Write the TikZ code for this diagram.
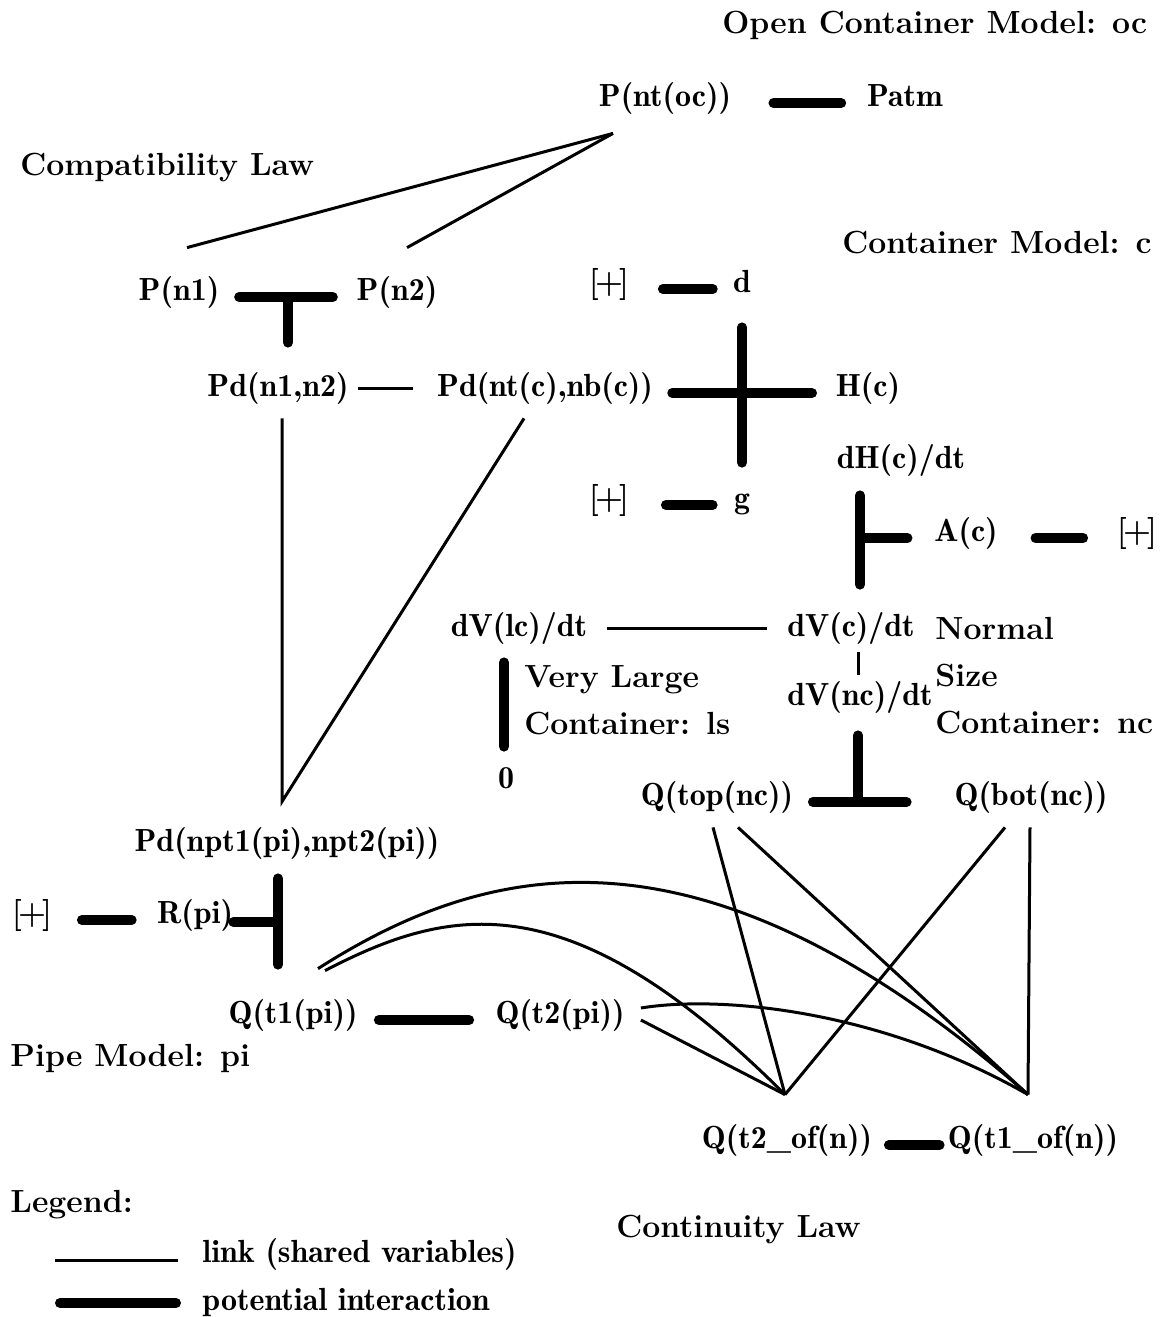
\documentclass[tikz,border=0pt]{standalone}
\usepackage{tikz}
\usetikzlibrary{calc}
\tikzstyle{var}=[inner sep=0, text height=12pt, text depth=4pt, font=\fontsize{16}{19}\fontseries{b}\selectfont]
\tikzstyle{pbox}=[var, font=\fontsize{16}{19}\bfseries]
\tikzstyle{heading}=[inner sep=0, anchor=west, align=left, font=\fontsize{16}{23.5}\fontseries{bx}\selectfont]
\tikzstyle{link}=[line width=1.5pt]
\tikzstyle{inter}=[line width=5pt, line cap=round]
\tikzstyle{hbar}=[inter, transform canvas={yshift=-2.5pt}]
\newcommand{\plusbox}{[\kern-2pt+\kern-2pt]}

\begin{document}
\begin{tikzpicture}[x=0.5pt, y=-0.5pt]
\useasboundingbox (0,0) rectangle (1162,1317);
\draw (722,25) node[heading](ocm){Open Container Model: oc};
\draw (665,98) node[var](pntoc){P(nt(oc))};
\draw (905,98) node[var](patm){Patm};
\draw[hbar, shorten <=21pt, shorten >=12.8pt] (pntoc) -- (patm);
\draw (20,168) node[heading](compat){Compatibility Law};
\draw (842,243) node[heading](cm){Container Model: c};
\draw (179,292) node[var](pn1){P(n1)};
\draw (397,292) node[var](pn2){P(n2)};
\draw[link] ($(pntoc.south)+(-52,19)$) -- ($(pn1.north)+(8,-28)$);
\draw[link] ($(pntoc.south)+(-52,19)$) -- ($(pn2.north)+(10,-28)$);
\draw (609,284) node[pbox](plus1){\plusbox};
\draw (742,284) node[var](d){d};
\draw[hbar, shorten <=16.75pt, shorten >=10pt] (plus1) -- (d);
\draw (278,388) node[var](pd12){Pd(n1,n2)};
\draw (545,388) node[var](pdc){Pd(nt(c),nb(c))};
\draw (868,388) node[var](hc){H(c)};
\draw[hbar, shorten <=9.75pt, shorten >=11.75pt] (pn1) -- (pn2);
\coordinate (j12) at ($(pn1.east)!.5!(pn2.west)$);
\draw[inter, shorten <=2.5pt, shorten >=14.5pt] (j12) -- (j12 |- pd12.north);
\draw[link, shorten <=4.75pt, shorten >=12pt] (pd12) -- (pdc);
\draw[hbar, shorten <=9.5pt, shorten >=11.75pt] (pdc) -- (hc);
\draw (609,500) node[pbox](plus2){\plusbox};
\draw (742,500) node[var](g){g};
\draw[hbar, shorten <=18.25pt, shorten >=10.5pt] (plus2) -- (g);
\draw[inter, shorten <=13.5pt, shorten >=10.5pt] (d) -- (g);
\draw (901,460) node[var](dhc){dH(c)/dt};
\draw (966,533) node[var](ac){A(c)};
\draw (1137,533) node[pbox](plus3){\plusbox};
\draw[hbar, shorten <=18.75pt, shorten >=16.75pt] (ac) -- (plus3);
\draw (519,628) node[var](dvlc){dV(lc)/dt};
\draw (851,628) node[var](dvc){dV(c)/dt};
\draw (860,697) node[var](dvnc){dV(nc)/dt};
\coordinate (ja) at (860,538);
\draw[inter, shorten <=9.5pt, shorten >=13.5pt] (ja |- dhc.south) -- (ja |- dvc.north);
\draw[inter, shorten >=13.25pt] (ja) -- (ja -| ac.west);
\draw[link, shorten <=9.5pt, shorten >=9.75pt] (dvlc) -- (dvc);
\draw[link, shorten <=4pt, shorten >=3pt] ($(dvnc |- dvc.south)+(-2,0)$) -- ($(dvnc.north)+(-2,0)$);
\draw (935,617) node[heading, anchor=north west](nsize){Normal\\Size\\Container: nc};
\draw (524,665) node[heading, anchor=north west](vlarge){Very Large\\Container: ls};
\draw (506,780) node[var](zero){0};
\draw[inter, shorten <=9pt, shorten >=8.5pt] ($(zero |- dvlc.south)+(-2,0)$) -- ($(zero.north)+(-2,0)$);
\draw (717,797) node[var](qtop){Q(top(nc))};
\draw (1031,797) node[var](qbot){Q(bot(nc))};
\draw[hbar, shorten <=9.75pt, shorten >=23.75pt] (qtop) -- (qbot);
\coordinate (jq) at (858,802);
\draw[inter, shorten <=11pt] (jq |- dvnc.south) -- (jq);
\draw (287,843) node[var](pdpi){Pd(npt1(pi),npt2(pi))};
\coordinate (vpi) at ($(pdpi.north)+(-5,-25)$);
\draw[link] ($(pd12.south)+(4,14)$) -- (vpi) -- ($(pdc.south)+(-21,14)$);
\draw (32,915) node[pbox](plus4){\plusbox};
\draw (195,915) node[var](rpi){R(pi)};
\draw[hbar, shorten <=14.75pt, shorten >=12.5pt] (plus4) -- (rpi);
\draw (293,1015) node[var](qt1){Q(t1(pi))};
\draw (560,1015) node[var](qt2){Q(t2(pi))};
\draw[hbar, shorten <=10.5pt, shorten >=13pt] (qt1) -- (qt2);
\coordinate (jr) at (278,922);
\draw[inter, shorten <=9.5pt, shorten >=17pt] (jr |- pdpi.south) -- (jr |- qt1.north);
\draw[inter] (rpi.east |- jr) -- (jr);
\draw (10,1058) node[heading](pipe){Pipe Model: pi};
\draw (787,1140) node[var](qt2of){Q(t2\_of(n))};
\draw (1033,1140) node[var](qt1of){Q(t1\_of(n))};
\draw[hbar, shorten <=8.25pt, shorten >=4pt] (qt2of) -- (qt1of);
\coordinate (ca) at ($(qt2of.north)+(-2,-29)$);
\coordinate (cb) at ($(qt1of.north)+(-5,-29)$);
\draw[link] ($(qtop.south)+(-4,14)$) -- (ca);
\draw[link] ($(qtop.south)+(21,14)$) -- (cb);
\draw[link] ($(qbot.south)+(-26,14)$) -- (ca);
\draw[link] ($(qbot.south)+(-1,14)$) -- (cb);
\draw[link] ($(qt1.north)+(25,-30)$) .. controls +(165,-105) and +(-330,-290) .. (cb);
\draw[link] ($(qt1.north)+(32,-28)$) .. controls +(125,-65) and +(-215,-215) .. (ca);
\draw[link] ($(qt2.east)+(16,-7)$) .. controls +(79,-13) and +(-148,-85) .. (cb);
\draw[link] ($(qt2.east)+(16,5)$) -- (ca);
\draw (10,1205) node[heading](legend){Legend:};
\draw (202,1254) node[heading, font=\fontsize{16}{19}\fontseries{b}\selectfont](lktext){link (shared variables)};
\draw (202,1302) node[heading, font=\fontsize{16}{19}\fontseries{b}\selectfont](pitext){potential interaction};
\coordinate (lk) at (55,1260);
\coordinate (pk) at (55,1303);
\draw[link, shorten >=12pt] (lk) -- (lk -| lktext.west);
\draw[inter, shorten <=2.5pt, shorten >=13pt] (pk) -- (pk -| pitext.west);
\draw (616,1230) node[heading](contin){Continuity Law};
\end{tikzpicture}
\end{document}
